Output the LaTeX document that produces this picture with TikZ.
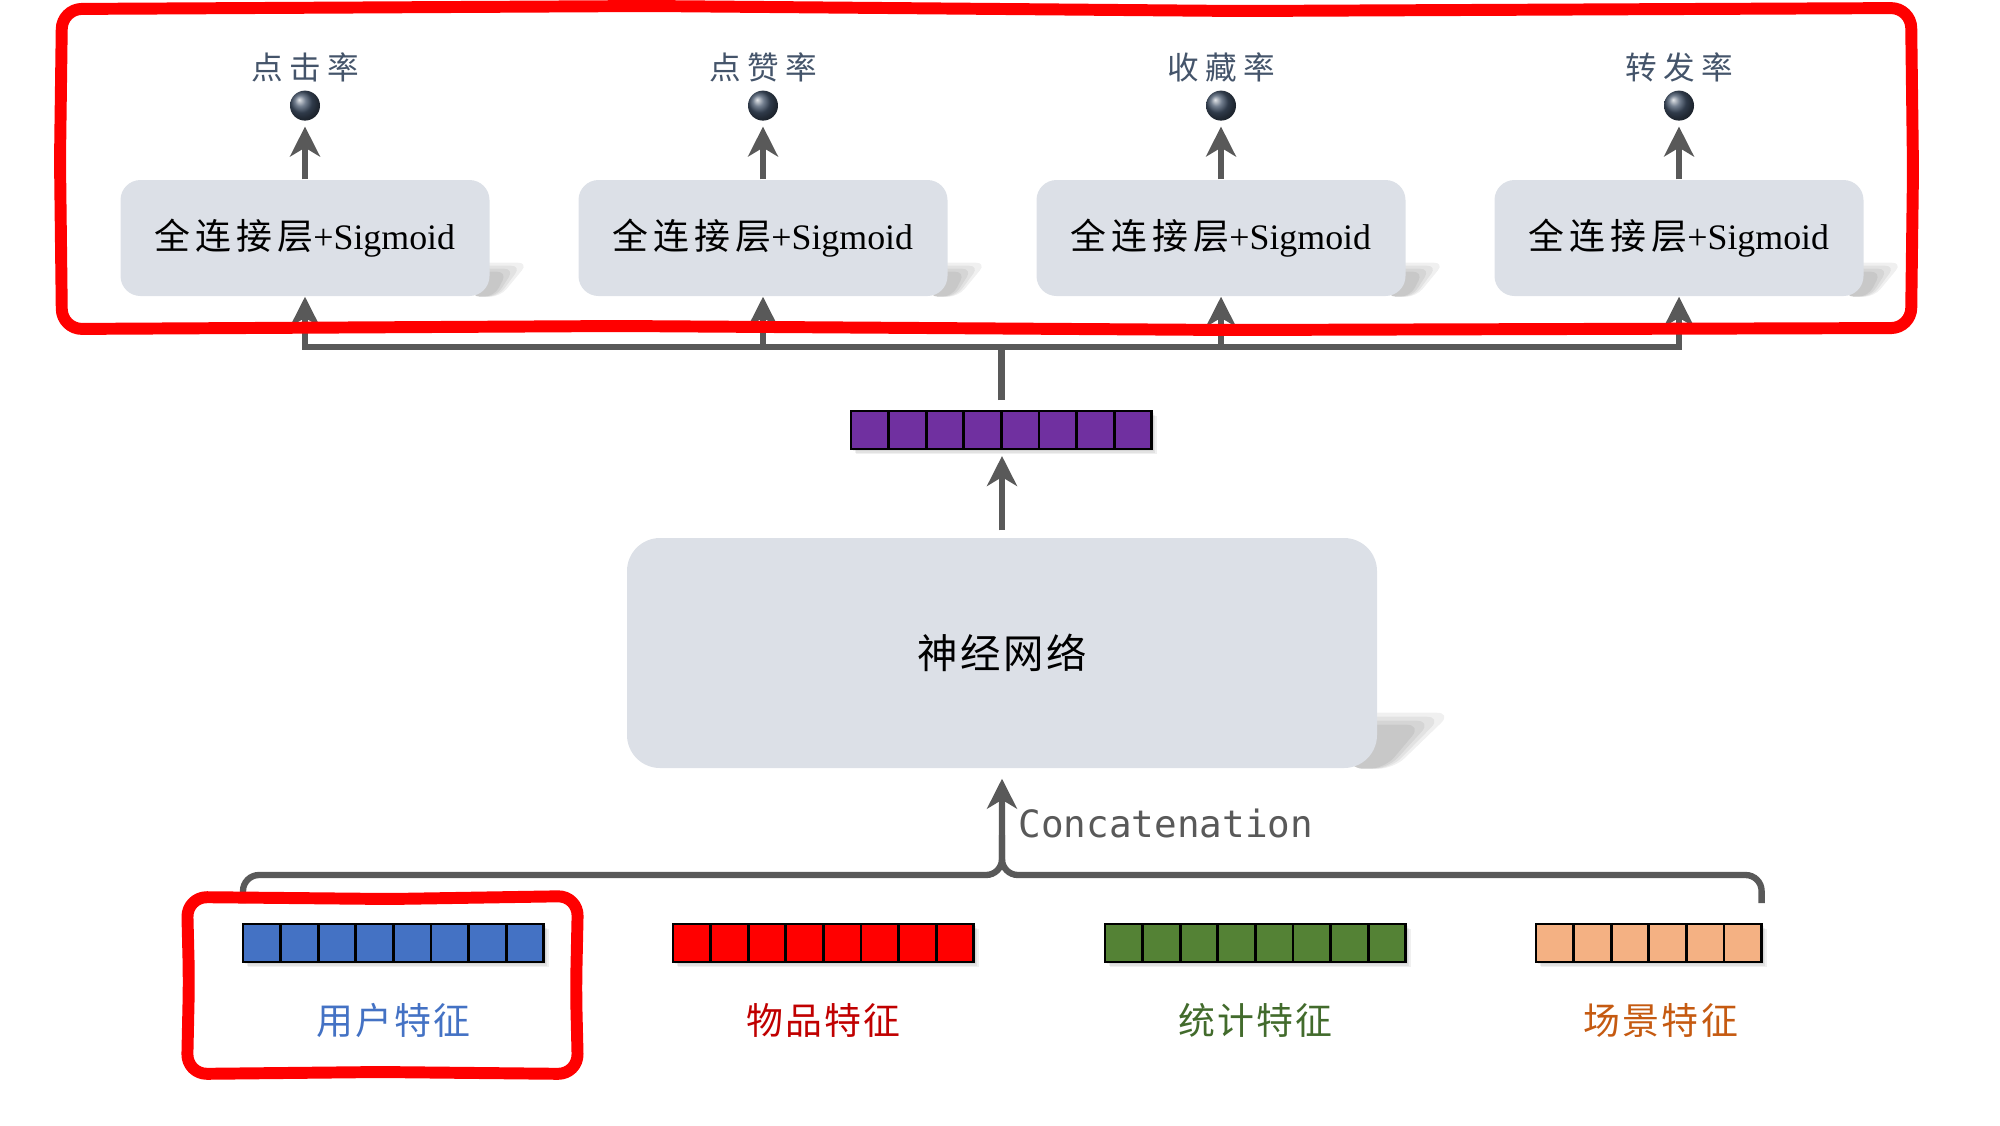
\documentclass[tikz,border=0pt]{standalone}
\usepackage{fontspec}
\setmainfont{Liberation Serif}
\newfontfamily\cjk{Noto Sans CJK SC}[LetterSpace=6]
\newfontfamily\cjkmid{Noto Sans CJK SC}[LetterSpace=14]
\newfontfamily\cjkwide{Noto Sans CJK SC}[LetterSpace=20]
\newfontfamily\catfont{DejaVu Sans Mono}
\usepackage{tikz}
\usetikzlibrary{arrows.meta, positioning, backgrounds}

\definecolor{boxgray}{HTML}{DCE0E7}
\definecolor{conngray}{HTML}{595959}
\definecolor{slate}{HTML}{44546A}
\definecolor{hidpurple}{HTML}{7030A0}
\definecolor{userblue}{HTML}{4472C4}
\definecolor{itemred}{HTML}{FF0000}
\definecolor{itemtext}{HTML}{C00000}
\definecolor{statgreen}{HTML}{548235}
\definecolor{stattext}{HTML}{426B2C}
\definecolor{ctxorange}{HTML}{F4B183}
\definecolor{ctxtext}{HTML}{C55A11}

\begin{document}
\begin{tikzpicture}[
    fcbox/.style={fill=boxgray, rounded corners=2mm, minimum width=3.69cm, minimum height=1.16cm, inner sep=1pt, font=\fontsize{10.2}{12}\selectfont},
    nnbox/.style={fill=boxgray, rounded corners=3.3mm, minimum width=7.5cm, minimum height=2.3cm, font=\cjk\fontsize{11.5}{13}\selectfont},
    outball/.style={circle, shade, ball color=slate, minimum size=3mm, inner sep=0pt},
    ratelab/.style={font=\cjkwide\fontsize{9}{11}\selectfont, text=slate, inner sep=0pt},
    cell/.style={draw=black, line width=0.8pt, minimum width=3.76mm, minimum height=3.8mm, inner sep=0pt, outer sep=0pt, anchor=north west},
    featlab/.style={font=\cjk\fontsize{10.5}{12}\selectfont, inner sep=0pt},
    conn/.style={draw=conngray, line width=1.8pt},
    upar/.style={-{Stealth[length=8.5pt, width=8.5pt, inset=2.5pt]}},
    fshadow/.style={fill=black, opacity=0.06},
    sketch/.style={draw=red, line width=3.4pt, rounded corners=2mm, line join=round},
]
\useasboundingbox (0,0) rectangle (20,-11.25);

% Output towers: fully connected layer, sigmoid output, rate name
\foreach \i/\x/\rate in {1/3.05/点击率, 2/7.63/点赞率, 3/12.21/收藏率, 4/16.79/转发率} {
    \node[fcbox] (fc\i) at (\x, -2.38) {{\cjkmid 全连接层}+Sigmoid};
    \node[outball, above=5.8mm of fc\i] (out\i) {};
    \node[ratelab, anchor=base] (rate\i) at ([yshift=2.6mm]out\i.center) {\rate};
    \draw[conn, upar, shorten >=1.5pt] (fc\i) -- (out\i);
}

% Shared hidden vector
\foreach \k in {1,...,8}
    \node[cell, fill=hidpurple] (p\k) at ({8.51+(\k-1)*0.376}, -4.11) {};

% Neural network
\node[nnbox] (nn) at (10.02, -6.53) {神经网络};
\draw[conn, upar, shorten <=0.7mm, shorten >=0.7mm] (nn.north) -- (nn.north |- p4.south);

% Bus from hidden vector to the four towers
\coordinate (tbus) at ([yshift=6.4mm]p4.north east);
\draw[conn] ([yshift=1.1mm]p4.north east) -- (tbus);
\foreach \i in {1,...,4}
    \draw[conn, upar] (tbus) -| (fc\i.south);

% Input feature vectors
\foreach \v/\x/\n/\col in {u/2.43/8/userblue, i/6.73/8/itemred, s/11.05/8/statgreen, c/15.36/6/ctxorange}
    \foreach \k in {1,...,\n}
        \node[cell, fill=\col] (\v\k) at ({\x+(\k-1)*0.376}, -9.24) {};

\node[featlab, text=userblue] (ulab) at ([yshift=-5.8mm]u4.south east) {用户特征};
\node[featlab, text=itemtext] (ilab) at ([yshift=-5.8mm]i4.south east) {物品特征};
\node[featlab, text=stattext] (slab) at ([yshift=-5.8mm]s4.south east) {统计特征};
\node[featlab, text=ctxtext] (clab) at ([shift={(1.2mm,-5.8mm)}]c3.south east) {场景特征};

% Concatenation into the network
\coordinate (cat) at (nn.south |- 0,-8.75);
\draw[conn, rounded corners=1.6mm] ([yshift=2.1mm]c6.north east) |- (cat) -- ++(0,0.4);
\draw[conn, upar, rounded corners=1.6mm, shorten >=1mm] ([yshift=2.1mm]u1.north west) |- (cat) -- (nn.south);
\node[anchor=base west, inner sep=0pt, text=conngray, font=\catfont\fontsize{10.7}{12}\selectfont] (catlab) at ([shift={(1.6mm,3.8mm)}]cat) {Concatenation};

% Soft shadows, a few faint layers each
\begin{scope}[on background layer]
\foreach \i in {1,...,4}
  \foreach \s in {0,1,2,3}
    \fill[fshadow, rounded corners=1mm] ([shift={(-0.2,{0.34-\s*0.03})}]fc\i.south east) -- ++({0.58-\s*0.07},0) -- ([shift={({0.1-\s*0.02},0)}]fc\i.south east) -- ([shift={(-0.2,0)}]fc\i.south east) -- cycle;
\foreach \s in {0,1,2,3}
  \fill[fshadow, rounded corners=1.5mm] ([shift={(-0.3,{0.56-\s*0.04})}]nn.south east) -- ++({1.04-\s*0.1},0) -- ([shift={({0.16-\s*0.03},0)}]nn.south east) -- ([shift={(-0.3,0)}]nn.south east) -- cycle;
\foreach \s in {0,1,2}
  \fill[fshadow] ([shift={({0.02+\s*0.015},{-0.02-\s*0.015})}]p1.north west) rectangle ([shift={({0.02+\s*0.015},{-0.02-\s*0.015})}]p8.south east);
\foreach \v/\n in {u/8, i/8, s/8, c/6}
  \foreach \s in {0,1,2}
    \fill[fshadow] ([shift={({0.02+\s*0.015},{-0.02-\s*0.015})}]\v1.north west) rectangle ([shift={({0.02+\s*0.015},{-0.02-\s*0.015})}]\v\n.south east);
\end{scope}

% Highlight frames
\draw[sketch] (0.62,-0.09) -- (6.5,-0.06) -- (12.4,-0.11) -- (19.11,-0.08) -- (19.13,-1.7) -- (19.11,-3.28) -- (12.3,-3.30) -- (6.2,-3.26) -- (0.62,-3.29) -- (0.60,-1.6) -- cycle;
\draw[sketch] (1.87,-8.97) -- (3.9,-8.99) -- (5.78,-8.96) -- (5.76,-9.9) -- (5.78,-10.74) -- (3.8,-10.72) -- (1.87,-10.74) -- (1.89,-9.8) -- cycle;

\end{tikzpicture}
\end{document}
